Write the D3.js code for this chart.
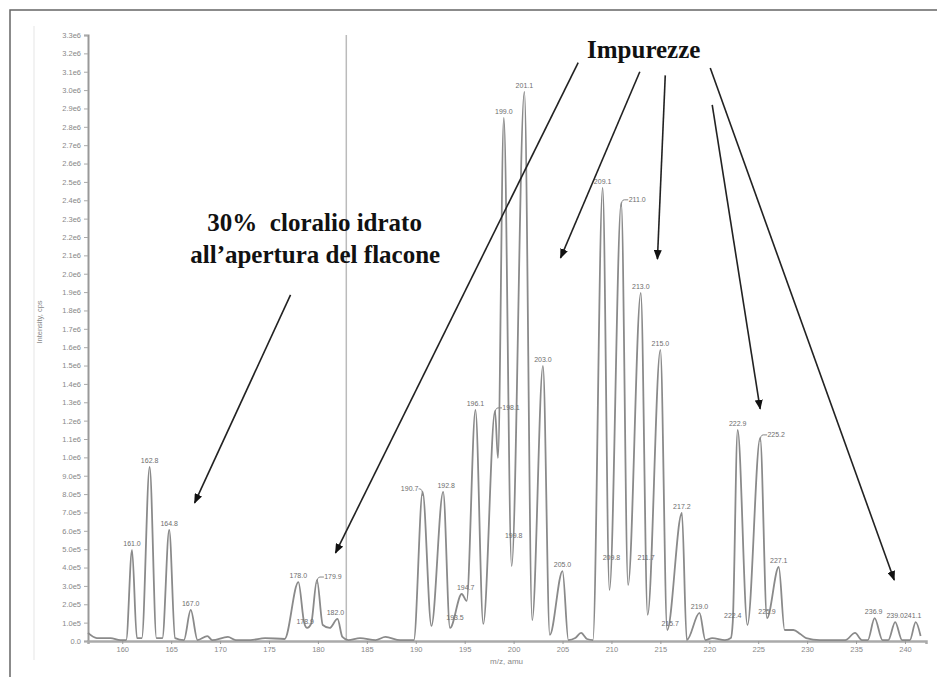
<!DOCTYPE html>
<html>
<head>
<meta charset="utf-8">
<script src="https://cdn.jsdelivr.net/npm/d3@7"></script>
<style>
  body { margin: 0; background: #fff; }
  svg { display: block; }
</style>
</head>
<body>
<svg id="chart" width="947" height="677"></svg>
<script>
// spectrum: m/z and intensity (cps)
var spectrumMz = [156.5, 157.4, 158.8, 159.8, 160.4, 161.0, 161.5, 162.0, 162.8, 163.5, 164.1, 164.8, 165.4, 166.3,
    167.0, 167.7, 168.7, 169.2, 170.8, 171.6, 173.1, 174.6, 176.6, 178.0, 178.6, 178.9, 179.3, 179.9, 180.5, 181.2,
    182.0, 182.5, 183.1, 184.3, 185.9, 186.9, 188.4, 189.8, 190.7, 191.6, 192.8, 193.5, 194.7, 195.2, 196.1, 196.9,
    198.1, 198.4, 199.0, 199.8, 201.1, 201.9, 203.0, 203.7, 205.0, 205.6, 206.3, 206.9, 207.5, 208.1, 209.1, 209.8,
    211.0, 211.7, 213.0, 213.7, 215.0, 215.7, 217.2, 217.7, 219.0, 219.6, 220.3, 221.6, 222.2, 222.4, 222.9, 223.9,
    225.2, 225.9, 227.1, 227.7, 228.6, 229.3, 229.9, 231.3, 233.9, 234.9, 235.6, 236.2, 236.9, 237.7, 238.3, 239.0,
    239.7, 240.5, 241.1, 241.6];
var spectrumInt = [44000, 16000, 16000, 5000, 5000, 496000, 16000, 16000, 948000, 16000, 16000, 605000, 16000, 5000,
    169000, 5000, 27000, 5000, 22000, 5000, 5000, 16000, 11000, 321000, 98000, 71000, 93000, 332000, 87000, 71000,
    120000, 22000, 5000, 16000, 5000, 22000, 5000, 5000, 812000, 82000, 812000, 71000, 256000, 218000, 1258000, 93000,
    1253000, 997000, 2849000, 408000, 2990000, 114000, 1498000, 33000, 381000, 5000, 16000, 44000, 11000, 5000, 2467000, 278000,
    2386000, 305000, 1895000, 142000, 1585000, 60000, 697000, 5000, 153000, 5000, 16000, 5000, 16000, 103000, 1149000, 87000,
    1106000, 125000, 403000, 60000, 60000, 38000, 16000, 5000, 5000, 44000, 5000, 5000, 125000, 5000, 5000, 103000,
    5000, 5000, 103000, 27000];

// peak labels
var labelMz = [161.0, 162.8, 164.8, 167.0, 178.0, 178.9, 179.9, 182.0, 190.7, 192.8, 193.5, 194.7, 196.1, 198.1,
    199.0, 199.8, 201.1, 203.0, 205.0, 209.1, 209.8, 211.0, 211.7, 213.0, 215.0, 215.7, 217.2, 219.0, 222.4, 222.9,
    225.2, 225.9, 227.1, 236.9, 239.0, 241.1];
var labelText = ["161.0", "162.8", "164.8", "167.0", "178.0", "178.9", "179.9", "182.0", "190.7", "192.8", "193.5",
    "194.7", "196.1", "198.1", "199.0", "199.8", "201.1", "203.0", "205.0", "209.1", "209.8", "211.0", "211.7", "213.0",
    "215.0", "215.7", "217.2", "219.0", "222.4", "222.9", "225.2", "225.9", "227.1", "236.9", "239.0", "241.1"];

var xTickLabels = [160, 165, 170, 175, 180, 185, 190, 195, 200, 205, 210, 215, 220, 225, 230, 235, 240];
var yTickLabels = ["0.0", "1.0e5", "2.0e5", "3.0e5", "4.0e5", "5.0e5", "6.0e5", "7.0e5", "8.0e5", "9.0e5",
    "1.0e6", "1.1e6", "1.2e6", "1.3e6", "1.4e6", "1.5e6", "1.6e6", "1.7e6", "1.8e6", "1.9e6", "2.0e6", "2.1e6",
    "2.2e6", "2.3e6", "2.4e6", "2.5e6", "2.6e6", "2.7e6", "2.8e6", "2.9e6", "3.0e6", "3.1e6", "3.2e6", "3.3e6"];

var cursorMz = 182.9;

// annotations (in data units)
var impurityArrowFrom = [[206.6, 3150000], [212.9, 3100000], [215.5, 3080000], [220.3, 2920000], [220.1, 3120000]];
var impurityArrowTo = [[181.8, 480000], [204.8, 2086000], [214.7, 2080000], [225.2, 1264000], [238.9, 332000]];
var hydrateArrowFrom = [177.2, 1885000];
var hydrateArrowTo = [167.4, 752000];

// layout nudges for crowded labels: index -> [dx, dy, leader]
var labelNudge = {5: [-2, 0], 6: [16, 3, 1], 7: [-2, 0], 8: [-13, 3, 1], 9: [3, 0], 10: [5, -4], 11: [4, 0],
    13: [16, 3, 1], 15: [2, -24], 20: [2, -26], 21: [16, 3, 1], 22: [18, -21], 25: [3, 0], 30: [16, 3, 1], 33: [-1, 0], 35: [-3, 0]};

var svg = d3.select('#chart');

var x = d3.scaleLinear().domain([156.5, 242.15]).range([88, 926]);
var y = d3.scaleLinear().domain([0, 3300000]).range([641, 35]);

// frame
svg.append('path').attr('d', 'M10,677V10H937').attr('fill', 'none').attr('stroke', '#666').attr('stroke-width', 1.5);
svg.append('line').attr('x1', 34).attr('x2', 34).attr('y1', 26).attr('y2', 660)
    .attr('stroke', '#eee').attr('stroke-width', 1.5);

// cursor line
svg.append('line')
    .attr('x1', x(cursorMz)).attr('x2', x(cursorMz))
    .attr('y1', y(3300000)).attr('y2', y(0))
    .attr('stroke', '#bbb').attr('stroke-width', 1.5);

// axes
var yAxis = d3.axisLeft(y)
    .tickValues(yTickLabels.map(Number))
    .tickFormat(function (d, i) { return yTickLabels[i]; })
    .tickSize(4).tickPadding(3);
var gy = svg.append('g').attr('transform', 'translate(88,0)').call(yAxis);
gy.select('.domain').attr('stroke', '#999').attr('stroke-width', 2);
gy.selectAll('.tick line').attr('stroke', '#aaa');
gy.selectAll('.tick text').attr('fill', '#888').style('font', '7.5px "Liberation Sans", Arial, sans-serif');

var xAxis = d3.axisBottom(x)
    .tickValues(xTickLabels)
    .tickFormat(d3.format('d'))
    .tickSize(3).tickPadding(3);
var gx = svg.append('g').attr('transform', 'translate(0,641)').call(xAxis);
gx.select('.domain').attr('stroke', '#aaa').attr('stroke-width', 2.5);
gx.selectAll('.tick line').attr('stroke', '#999');
gx.selectAll('.tick text').attr('fill', '#888').style('font', '7.5px "Liberation Sans", Arial, sans-serif');

svg.append('text')
    .attr('x', 523).attr('y', 664)
    .attr('text-anchor', 'end')
    .attr('fill', '#888')
    .style('font', '8px "Liberation Sans", Arial, sans-serif')
    .text('m/z, amu');

svg.append('text')
    .attr('transform', 'translate(42,322) rotate(-90)')
    .attr('text-anchor', 'middle')
    .attr('fill', '#888')
    .style('font', '7.5px "Liberation Sans", Arial, sans-serif')
    .text('Intensity, cps');

// spectrum
var points = spectrumMz.map(function (m, i) { return [m, spectrumInt[i]]; });
var line = d3.line()
    .x(function (d) { return x(d[0]); })
    .y(function (d) { return y(d[1]); })
    .curve(d3.curveMonotoneX);

svg.append('path')
    .datum(points)
    .attr('fill', 'none')
    .attr('stroke', '#8a8a8a')
    .attr('stroke-width', 1.8)
    .attr('stroke-linejoin', 'round')
    .attr('d', line);

// peak labels
var labels = labelMz.map(function (m, i) {
    var idx = d3.minIndex(spectrumMz, function (v) { return Math.abs(v - m); });
    var n = labelNudge[i] || [0, 0, 0];
    return {px: x(spectrumMz[idx]), py: y(spectrumInt[idx]), dx: n[0], dy: n[1], leader: n[2], text: labelText[i]};
});

var gl = svg.append('g');
gl.selectAll('path')
    .data(labels.filter(function (d) { return d.leader; }))
    .enter()
    .append('path')
    .attr('fill', 'none')
    .attr('stroke', '#888')
    .attr('stroke-width', 1)
    .attr('d', function (d) {
        var s = d.dx > 0 ? 1 : -1;
        var ly = d.py - 3;
        return 'M' + d.px + ',' + (d.py + 4) + 'Q' + d.px + ',' + ly + ' ' + (d.px + 3 * s) + ',' + ly +
            'L' + (d.px + d.dx - 9 * s) + ',' + ly;
    });

gl.selectAll('text')
    .data(labels)
    .enter()
    .append('text')
    .attr('x', function (d) { return d.px + d.dx; })
    .attr('y', function (d) { return d.py - 4 + d.dy; })
    .attr('text-anchor', 'middle')
    .attr('fill', '#6e6e6e')
    .style('font', '7px "Liberation Sans", Arial, sans-serif')
    .text(function (d) { return d.text; });

// arrows
var defs = svg.append('defs');
defs.append('marker')
    .attr('id', 'head')
    .attr('viewBox', '0 -4 10 8')
    .attr('refX', 9).attr('refY', 0)
    .attr('markerUnits', 'userSpaceOnUse')
    .attr('markerWidth', 10).attr('markerHeight', 8)
    .attr('orient', 'auto')
    .append('path')
    .attr('d', 'M0,-4L10,0L0,4Z')
    .attr('fill', '#111');

var arrows = impurityArrowFrom.map(function (f, i) { return [f, impurityArrowTo[i]]; });
arrows.push([hydrateArrowFrom, hydrateArrowTo]);

svg.append('g')
    .selectAll('line')
    .data(arrows)
    .enter()
    .append('line')
    .attr('x1', function (d) { return x(d[0][0]); })
    .attr('y1', function (d) { return y(d[0][1]); })
    .attr('x2', function (d) { return x(d[1][0]); })
    .attr('y2', function (d) { return y(d[1][1]); })
    .attr('stroke', '#222')
    .attr('stroke-width', 1.6)
    .attr('marker-end', 'url(#head)');

// annotation text
var serif = 'bold 25px "Liberation Serif", "Times New Roman", serif';
svg.append('text')
    .attr('x', x(213.3)).attr('y', y(3175000))
    .attr('text-anchor', 'middle')
    .attr('fill', '#111')
    .style('font', serif)
    .text('Impurezze');

svg.append('text')
    .attr('x', x(168.7)).attr('y', y(2233000))
    .attr('fill', '#111')
    .style('font', serif)
    .style('white-space', 'pre')
    .text('30%  cloralio idrato');

svg.append('text')
    .attr('x', x(166.95)).attr('y', y(2059000))
    .attr('fill', '#111')
    .style('font', serif)
    .text('all\u2019apertura del flacone');
</script>
</body>
</html>
